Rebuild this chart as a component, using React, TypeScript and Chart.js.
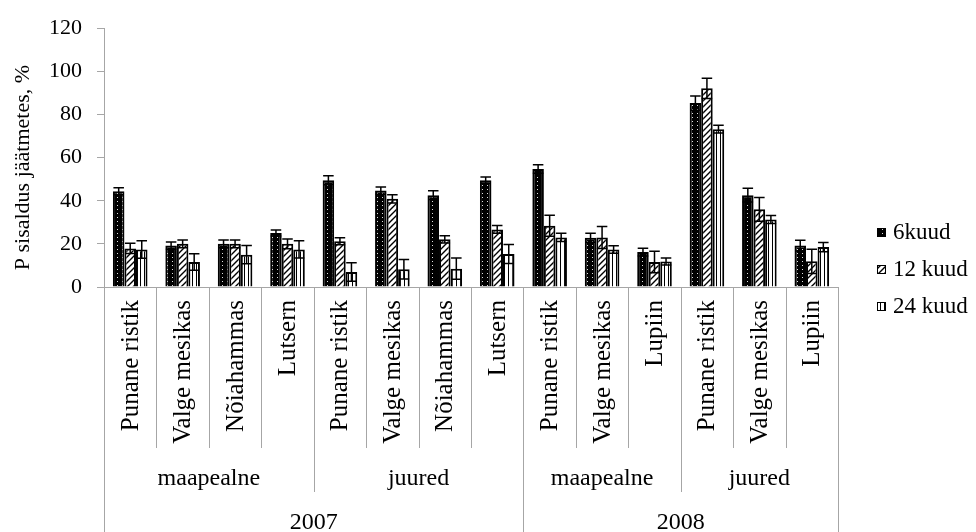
import React, { useEffect, useRef } from 'react';
import { Chart, registerables } from 'chart.js';
Chart.register(...registerables);

const categories = [
  'Punane ristik', 'Valge mesikas', 'Nõiahammas', 'Lutsern',
  'Punane ristik', 'Valge mesikas', 'Nõiahammas', 'Lutsern',
  'Punane ristik', 'Valge mesikas', 'Lupiin',
  'Punane ristik', 'Valge mesikas', 'Lupiin',
];
const groupLabels = ['maapealne', 'juured', 'maapealne', 'juured'];
const groupStarts = [0, 4, 8, 11];
const groupEnds = [3, 7, 10, 13];
const yearLabels = ['2007', '2008'];
const yearStarts = [0, 8];
const yearEnds = [7, 13];

const seriesNames = ['6kuud', '12 kuud', '24 kuud'];
const values6 = [44.4, 19.2, 20.0, 25.0, 49.5, 44.7, 42.6, 49.5, 54.7, 22.8, 16.2, 85.3, 42.6, 19.2];
const values12 = [17.9, 20.0, 20.0, 20.0, 21.2, 40.9, 22.1, 26.7, 28.4, 23.0, 11.6, 92.1, 36.0, 11.9];
const values24 = [17.4, 11.6, 15.0, 17.4, 7.0, 8.2, 8.5, 15.3, 23.0, 17.4, 11.8, 73.2, 31.3, 18.5];
const errors6 = [1.6, 1.7, 1.8, 1.4, 2.1, 1.7, 2.0, 1.5, 2.0, 2.1, 1.8, 3.3, 3.2, 2.5];
const errors12 = [2.4, 1.8, 1.8, 2.3, 1.6, 1.9, 1.7, 1.8, 4.9, 5.1, 5.0, 4.7, 5.5, 5.6];
const errors24 = [4.1, 3.8, 4.2, 4.0, 4.3, 4.5, 4.9, 4.4, 1.9, 1.7, 1.6, 1.8, 1.8, 2.1];
const yTicks = [0, 20, 40, 60, 80, 100, 120];
const yTitle = 'P sisaldus jäätmetes, %';

const FONT = '"Liberation Serif", "Times New Roman", serif';
const AXIS_GRAY = '#a6a6a6';

function makePattern(w: number, h: number, draw: (g: CanvasRenderingContext2D) => void) {
  const c = document.createElement('canvas');
  c.width = w;
  c.height = h;
  const g = c.getContext('2d')!;
  draw(g);
  return g.createPattern(c, 'repeat')!;
}

export default function App() {
  const ref = useRef<HTMLCanvasElement>(null);
  useEffect(() => {
    document.body.style.margin = '0';
    const canvas = ref.current!;
    const ctx = canvas.getContext('2d')!;

    const dots = makePattern(5, 4, (g) => {
      g.fillStyle = '#000';
      g.fillRect(0, 0, 5, 4);
      g.fillStyle = '#e0e0e0';
      g.fillRect(2, 1, 1, 1);
    });
    const diag = makePattern(6, 6, (g) => {
      g.fillStyle = '#fff';
      g.fillRect(0, 0, 6, 6);
      g.strokeStyle = '#000';
      g.lineWidth = 1.4;
      g.beginPath();
      g.moveTo(-1, 7); g.lineTo(7, -1);
      g.moveTo(-1, 1); g.lineTo(1, -1);
      g.moveTo(5, 7); g.lineTo(7, 5);
      g.stroke();
    });
    const vert = makePattern(4, 4, (g) => {
      g.fillStyle = '#fff';
      g.fillRect(0, 0, 4, 4);
      g.fillStyle = '#000';
      g.fillRect(0, 0, 1, 4);
    });
    const patterns = [dots, diag, vert];
    const allValues = [values6, values12, values24];
    const allErrors = [errors6, errors12, errors24];

    const overlay = {
      id: 'overlay',
      afterDatasetsDraw(chart: any) {
        const c = chart.ctx as CanvasRenderingContext2D;
        const ys = chart.scales.y;
        c.save();
        c.strokeStyle = '#000';
        c.lineWidth = 1.5;
        allValues.forEach((vals, di) => {
          const meta = chart.getDatasetMeta(di);
          meta.data.forEach((el: any, i: number) => {
            const v = vals[i];
            const e = allErrors[di][i];
            const top = ys.getPixelForValue(v + e);
            const bot = ys.getPixelForValue(v - e);
            const hw = el.width / 2 - 0.5;
            c.beginPath();
            c.moveTo(el.x, bot); c.lineTo(el.x, top);
            c.moveTo(el.x - hw, top); c.lineTo(el.x + hw, top);
            c.moveTo(el.x - hw, bot); c.lineTo(el.x + hw, bot);
            c.stroke();
          });
        });
        c.restore();
      },
      afterDraw(chart: any) {
        const c = chart.ctx as CanvasRenderingContext2D;
        const xs = chart.scales.x;
        const area = chart.chartArea;
        const cb = area.bottom;
        const H = chart.height;
        const n = categories.length;
        const step = xs.getPixelForValue(1) - xs.getPixelForValue(0);
        const edge = (i: number) => xs.getPixelForValue(i) - step / 2;
        c.save();
        // y title
        c.fillStyle = '#000';
        c.font = `22px ${FONT}`;
        c.textAlign = 'center';
        c.textBaseline = 'middle';
        c.save();
        c.translate(23, (area.top + area.bottom) / 2 + 10);
        c.rotate(-Math.PI / 2);
        c.fillText(yTitle, 0, 0);
        c.restore();
        // dividers
        c.strokeStyle = AXIS_GRAY;
        c.lineWidth = 1;
        for (let i = 0; i <= n; i++) {
          const x = Math.round(edge(i)) + 0.5;
          let end = cb + 161;
          if (yearStarts.includes(i) || i === n) end = H;
          else if (groupStarts.includes(i)) end = cb + 205;
          c.beginPath();
          c.moveTo(x, cb);
          c.lineTo(x, end);
          c.stroke();
        }
        // category labels
        c.font = `25px ${FONT}`;
        c.textAlign = 'right';
        c.textBaseline = 'middle';
        categories.forEach((lab, i) => {
          c.save();
          c.translate(xs.getPixelForValue(i) + 1, cb + 13);
          c.rotate(-Math.PI / 2);
          c.fillText(lab, 0, 0);
          c.restore();
        });
        // group labels
        c.font = `24px ${FONT}`;
        c.textAlign = 'center';
        groupLabels.forEach((lab, gi) => {
          const x = (edge(groupStarts[gi]) + edge(groupEnds[gi] + 1)) / 2;
          c.fillText(lab, x, cb + 192);
        });
        yearLabels.forEach((lab, yi) => {
          const x = (edge(yearStarts[yi]) + edge(yearEnds[yi] + 1)) / 2;
          c.fillText(lab, x, cb + 236);
        });
        // legend
        const lx = area.right + 39;
        c.font = `23px ${FONT}`;
        c.textAlign = 'left';
        seriesNames.forEach((name, i) => {
          const cy = H / 2 + 4 + (i - 1) * 37;
          c.fillStyle = patterns[i];
          c.fillRect(lx, cy - 5, 9, 9);
          c.strokeStyle = '#000';
          c.lineWidth = 1;
          c.strokeRect(lx + 0.5, cy - 4.5, 8, 8);
          c.fillStyle = '#000';
          c.fillText(name, lx + 16, cy);
        });
        c.restore();
      },
    };

    const chart = new Chart(ctx, {
      type: 'bar',
      data: {
        labels: categories,
        datasets: allValues.map((vals, i) => ({
          label: seriesNames[i],
          data: vals,
          backgroundColor: patterns[i],
          borderColor: '#000',
          borderWidth: 2,
          categoryPercentage: 0.66,
          barPercentage: 1,
        })),
      },
      options: {
        animation: false,
        responsive: true,
        maintainAspectRatio: false,
        layout: { padding: { top: 25, right: 138, bottom: 245, left: 0 } },
        plugins: { legend: { display: false }, tooltip: { enabled: false } },
        scales: {
          x: {
            ticks: { display: false },
            grid: { display: false },
            border: { display: true, color: AXIS_GRAY, width: 1 },
            afterFit: (s: any) => { s.height = 0; },
          },
          y: {
            min: 0,
            max: 120,
            afterBuildTicks: (s: any) => { s.ticks = yTicks.map((v) => ({ value: v })); },
            ticks: { font: { family: FONT, size: 22 }, color: '#000', padding: 15 },
            grid: { drawOnChartArea: false, drawTicks: true, tickLength: 7, color: AXIS_GRAY },
            border: { display: true, color: AXIS_GRAY, width: 1 },
            title: { display: false },
            afterFit: (s: any) => { s.width = 104; },
          },
        },
      },
      plugins: [overlay],
    });
    return () => chart.destroy();
  }, []);
  return (
    <div style={{ width: 976, height: 532, position: 'relative' }}>
      <canvas ref={ref} />
    </div>
  );
}
